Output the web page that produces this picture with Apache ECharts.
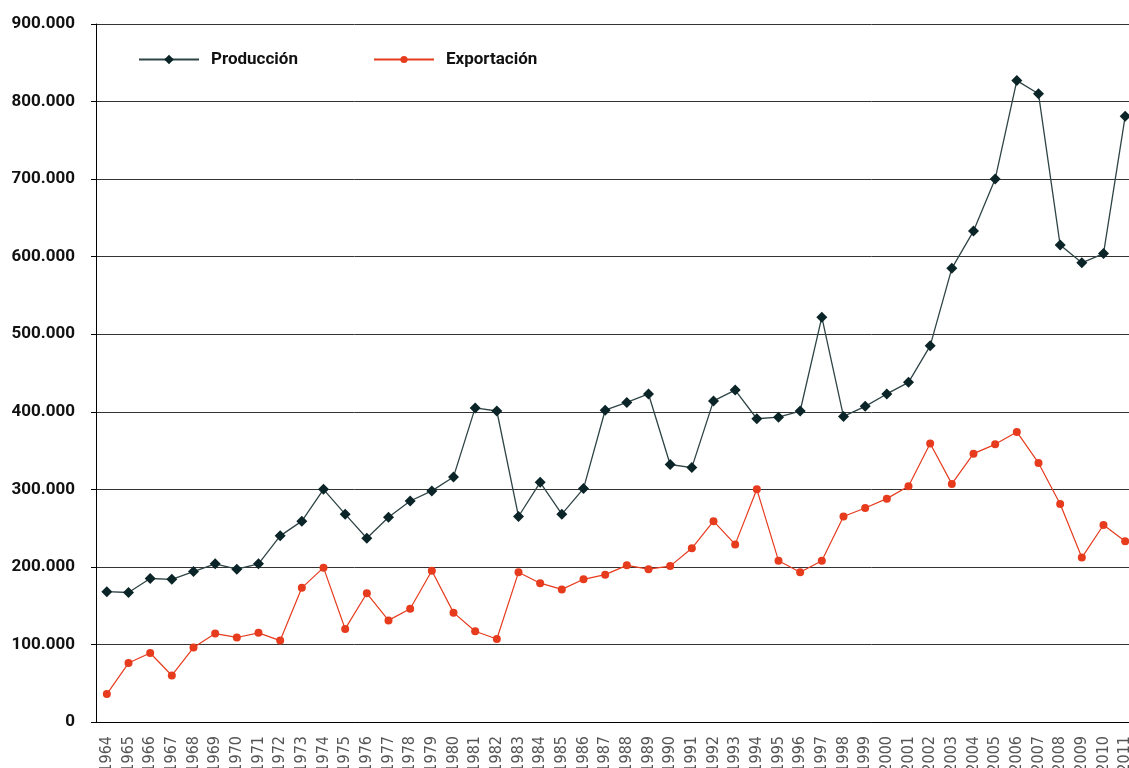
<!DOCTYPE html>
<html>
<head>
<meta charset="utf-8">
<script src="https://cdn.jsdelivr.net/npm/echarts@6/dist/echarts.min.js"></script>
<style>
  html, body { margin: 0; padding: 0; background: #fff; }
  #chart { width: 1129px; height: 768px; }
</style>
</head>
<body>
<div id="chart"></div>
<script>
  // años
  var years = ['1964','1965','1966','1967','1968','1969','1970','1971','1972','1973',
    '1974','1975','1976','1977','1978','1979','1980','1981','1982','1983',
    '1984','1985','1986','1987','1988','1989','1990','1991','1992','1993',
    '1994','1995','1996','1997','1998','1999','2000','2001','2002','2003',
    '2004','2005','2006','2007','2008','2009','2010','2011'];

  var produccion = [168000,167000,185000,184000,194000,204000,197000,204000,240000,259000,
    300000,268000,237000,264000,285000,298000,316000,405000,401000,265000,
    309000,268000,301000,402000,412000,423000,332000,328000,414000,428000,
    391000,393000,401000,522000,394000,407000,423000,438000,485000,585000,
    633000,700000,827000,810000,615000,592000,604000,781000];

  var exportacion = [36000,76000,89000,60000,96000,114000,109000,115000,105000,173000,
    199000,120000,166000,131000,146000,195000,141000,117000,107000,193000,
    179000,171000,184000,190000,202000,197000,201000,224000,259000,229000,
    300000,208000,193000,208000,265000,276000,288000,304000,359000,307000,
    346000,358000,374000,334000,281000,212000,254000,233000];

  // etiquetas del eje y
  var yTickLabels = ['0','100.000','200.000','300.000','400.000','500.000','600.000','700.000','800.000','900.000'];

  var darkLine = '#2f4446';
  var darkMark = '#0a2427';
  var red = '#e63b1d';

  var legendText = { fontFamily: 'Roboto', fontWeight: 'bold', fontSize: 17, color: '#111', padding: [0,0,0,7] };

  var myChart = echarts.init(document.getElementById('chart'));
  myChart.setOption({
    animation: false,
    grid: { left: 96, right: -7, top: 24, bottom: 46, outerBoundsMode: 'none', containLabel: false },
    legend: [{
      data: [{ name: 'Producción', itemStyle: { color: darkMark } }],
      left: 133, top: 46,
      itemWidth: 60, itemHeight: 12,
      textStyle: legendText
    }, {
      data: [{ name: 'Exportación' }],
      left: 368, top: 46,
      itemWidth: 60, itemHeight: 9,
      textStyle: legendText
    }],
    xAxis: {
      type: 'category',
      data: years,
      boundaryGap: true,
      axisLine: { lineStyle: { color: '#000', width: 1 } },
      axisTick: { length: 6, lineStyle: { color: '#000' } },
      axisLabel: {
        rotate: 90,
        interval: 0,
        margin: 14,
        color: '#555',
        fontSize: 16,
        fontFamily: 'Liberation Sans Narrow, DejaVu Sans Condensed, sans-serif'
      },
      splitLine: { show: false }
    },
    yAxis: {
      type: 'value',
      min: 0, max: 900000, interval: 100000,
      axisLine: { show: true, lineStyle: { color: '#000', width: 1 } },
      axisTick: { show: true, length: 5, lineStyle: { color: '#000' } },
      axisLabel: {
        margin: 21,
        color: '#111',
        fontFamily: 'Roboto',
        fontWeight: 'bold',
        fontSize: 17,
        formatter: function (v) { return yTickLabels[Math.round(v / 100000)]; }
      },
      splitLine: { show: true, lineStyle: { color: '#333', width: 1 } }
    },
    series: [{
      name: 'Producción',
      type: 'line',
      data: produccion,
      symbol: 'diamond',
      symbolSize: 11,
      lineStyle: { color: darkLine, width: 1.3 },
      itemStyle: { color: darkMark }
    }, {
      name: 'Exportación',
      type: 'line',
      data: exportacion,
      symbol: 'circle',
      symbolSize: 8,
      lineStyle: { color: red, width: 1.2 },
      itemStyle: { color: red }
    }]
  });
</script>
</body>
</html>
